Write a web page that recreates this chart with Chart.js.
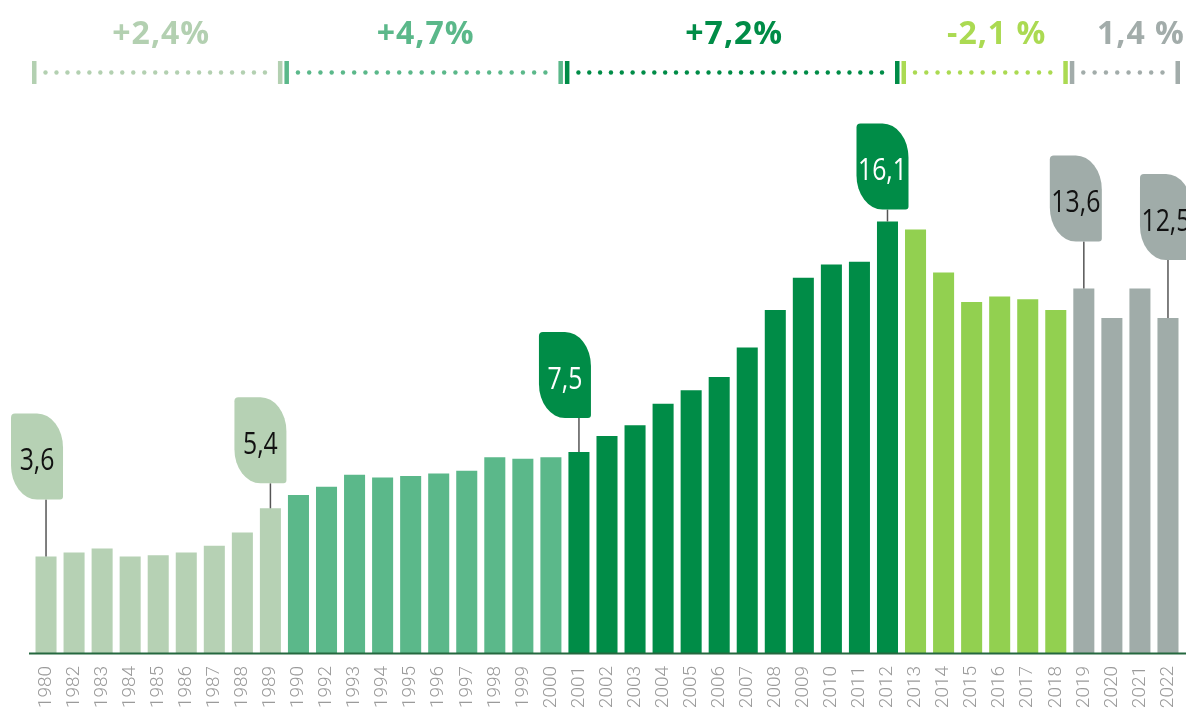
<!DOCTYPE html>
<html>
<head>
<meta charset="utf-8">
<script src="https://cdn.jsdelivr.net/npm/chart.js@4/dist/chart.umd.min.js"></script>
<style>
  html, body { margin: 0; padding: 0; background: #fff; }
  #wrap { width: 1186px; height: 716px; position: relative; }
</style>
</head>
<body>
<div id="wrap"><canvas id="chart"></canvas></div>
<script>
// yearly values (1981 and 1991 are not in the series)
const years = [
  '1980', '1982', '1983', '1984', '1985', '1986', '1987', '1988', '1989',
  '1990', '1992', '1993', '1994', '1995', '1996', '1997', '1998', '1999', '2000',
  '2001', '2002', '2003', '2004', '2005', '2006', '2007', '2008', '2009', '2010', '2011', '2012',
  '2013', '2014', '2015', '2016', '2017', '2018',
  '2019', '2020', '2021', '2022'
];
const values = [
  3.6, 3.75, 3.9, 3.6, 3.65, 3.75, 4.0, 4.5, 5.4,
  5.9, 6.2, 6.65, 6.55, 6.6, 6.7, 6.8, 7.3, 7.25, 7.3,
  7.5, 8.1, 8.5, 9.3, 9.8, 10.3, 11.4, 12.8, 14.0, 14.5, 14.6, 16.1,
  15.8, 14.2, 13.1, 13.3, 13.2, 12.8,
  13.6, 12.5, 13.6, 12.5
];

// periods and their average growth
const periodStart = ['1980', '1990', '2001', '2013', '2019'];
const periodEnd = ['1989', '2000', '2012', '2018', '2022'];
const periodGrowth = ['+2,4%', '+4,7%', '+7,2%', '-2,1 %', '1,4 %'];

// years that get a value tag
const taggedYears = ['1980', '1989', '2001', '2012', '2019', '2022'];

// styling
const barColors = ['#b6d1b4', '#5bb88a', '#008c47', '#92d050', '#a0aca9'];
const lineColors = ['#b3d0b1', '#5bb88a', '#008c47', '#abda52', '#a2acaa'];
const labelShift = [3, 1, 1, 11, 15];
const tagTextColors = ['#111', '#111', '#fff', '#111', '#111'];
const tagPlacement = {
  '1980': { dx: -9, gap: 57 },
  '1989': { dx: -10, gap: 25 },
  '2001': { dx: -14, gap: 34 },
  '2012': { dx: -5, gap: 12 },
  '2019': { dx: -8, gap: 47 },
  '2022': { dx: -2, gap: 58 }
};

function periodOf(i) {
  for (let p = periodStart.length - 1; p >= 0; p--) {
    if (i >= years.indexOf(periodStart[p])) return p;
  }
  return 0;
}

const overlay = {
  id: 'overlay',
  afterDraw(chart) {
    const { ctx, chartArea, scales: { x, y } } = chart;
    const step = x.getPixelForValue(1) - x.getPixelForValue(0);
    ctx.save();

    // base line
    ctx.strokeStyle = '#25683f';
    ctx.lineWidth = 2;
    ctx.beginPath();
    ctx.moveTo(chartArea.left - 3, chartArea.bottom + 0.5);
    ctx.lineTo(chart.width, chartArea.bottom + 0.5);
    ctx.stroke();

    // period brackets with growth rates
    periodStart.forEach((s, p) => {
      const L = x.getPixelForValue(years.indexOf(s)) - step / 2;
      const R = x.getPixelForValue(years.indexOf(periodEnd[p])) + step / 2;
      const c = lineColors[p];
      ctx.fillStyle = c;
      ctx.fillRect(L, 61, 4.5, 23);
      ctx.fillRect(R - 6.5, 61, 4.5, 23);
      const a = L + 13.5, b = R - 19.5;
      const n = Math.round((b - a) / 11);
      for (let k = 0; k <= n; k++) {
        ctx.beginPath();
        ctx.arc(a + (b - a) * k / n, 72.5, 2.2, 0, Math.PI * 2);
        ctx.fill();
      }
      ctx.font = 'bold 32px "Open Sans"';
      ctx.letterSpacing = '1px';
      ctx.textAlign = 'center';
      ctx.textBaseline = 'alphabetic';
      ctx.fillText(periodGrowth[p], (L + R) / 2 + labelShift[p], 44);
      ctx.letterSpacing = '0px';
    });

    // value tags
    taggedYears.forEach(yr => {
      const i = years.indexOf(yr);
      const p = periodOf(i);
      const bx = x.getPixelForValue(i);
      const top = y.getPixelForValue(values[i]);
      const pl = tagPlacement[yr];
      const w = 52, h = 86;
      const bottom = top - pl.gap;
      const tx = bx + pl.dx - w / 2, ty = bottom - h;

      ctx.strokeStyle = '#555';
      ctx.lineWidth = 1.5;
      ctx.beginPath();
      ctx.moveTo(bx, bottom);
      ctx.lineTo(bx, top);
      ctx.stroke();

      ctx.fillStyle = barColors[p];
      ctx.beginPath();
      ctx.roundRect(tx, ty, w, h, [4, { x: 26, y: 34 }, 3, { x: 26, y: 34 }]);
      ctx.fill();

      ctx.save();
      ctx.translate(tx + w / 2, ty + h / 2 + 5);
      ctx.scale(0.8, 1);
      ctx.fillStyle = tagTextColors[p];
      ctx.font = '31px "Open Sans"';
      ctx.textAlign = 'center';
      ctx.textBaseline = 'middle';
      ctx.fillText(values[i].toFixed(1).replace('.', ','), 0, 0);
      ctx.restore();
    });

    ctx.restore();
  }
};

new Chart(document.getElementById('chart'), {
  type: 'bar',
  data: {
    labels: years,
    datasets: [{
      data: values,
      backgroundColor: years.map((_, i) => barColors[periodOf(i)]),
      categoryPercentage: 1,
      barPercentage: 0.75
    }]
  },
  options: {
    responsive: true,
    maintainAspectRatio: false,
    animation: false,
    layout: { padding: { left: 32, right: 4, top: 117, bottom: 6 } },
    plugins: { legend: { display: false }, tooltip: { enabled: false } },
    scales: {
      x: {
        grid: { display: false, drawTicks: false },
        border: { display: false },
        afterFit(scale) {
          scale.paddingLeft = 0;
          scale.paddingRight = 0;
          scale.height = 57;
        },
        ticks: {
          autoSkip: false,
          minRotation: 90,
          maxRotation: 90,
          padding: 13,
          color: '#9b9b9b',
          font: { family: 'Roboto', size: 19, weight: '300' }
        }
      },
      y: {
        display: false,
        min: 0,
        max: 20
      }
    }
  },
  plugins: [overlay]
});
</script>
</body>
</html>
